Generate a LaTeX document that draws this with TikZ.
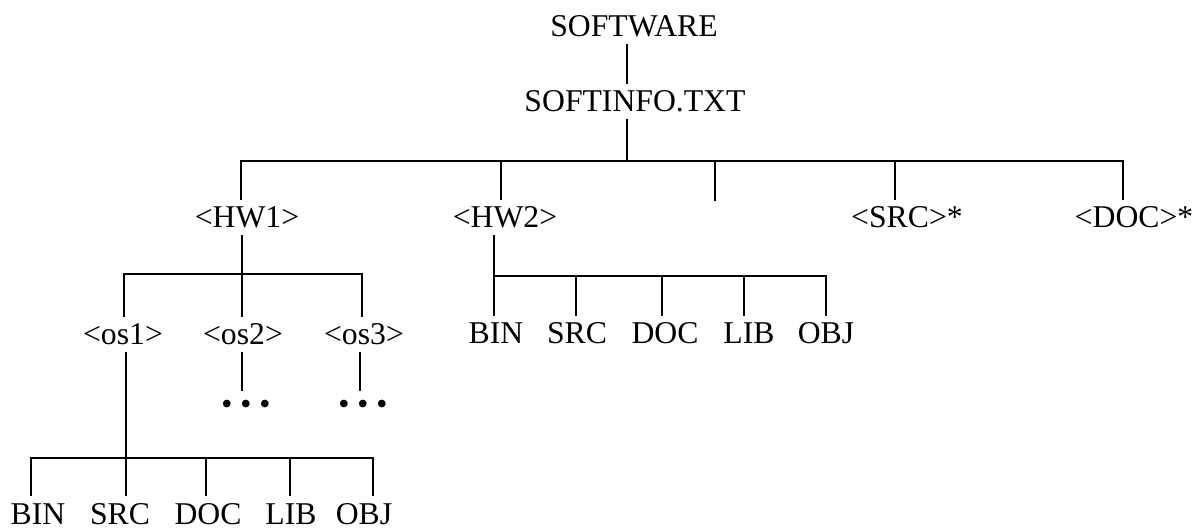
\documentclass[tikz,border=0pt]{standalone}
\usepackage{fontspec}
\setmainfont{Liberation Serif}
\tikzset{dir node/.style={inner sep=0pt, outer xsep=0pt, outer ysep=7pt, anchor=base, font=\fontsize{31.7}{38}\selectfont}}
\tikzset{tree line/.style={draw, line width=1.8pt}}

\begin{document}
\begin{tikzpicture}[x=1pt, y=-1pt]
			\useasboundingbox (0,0) rectangle (1195,529);
			% Define each node
			% Top of the tree
		    \node[dir node] (SW) at (634,37) {SOFTWARE};
		    \node[dir node] (INFO) at (635,112) {SOFTINFO.TXT};
		    % Second level
		    \node[dir node] (HW1) at (247,228) {<HW1>};
		    \node[dir node] (HW2) at (505,228) {<HW2>};
		    \node[dir node] (SRC) at (907,228) {<SRC>*};
		    \node[dir node] (DOC) at (1134,228) {<DOC>*};
		    % Below <HW1>
		    \node[dir node] (OS1) at (123,345) {<os1>};
		    \node[dir node] (OS2) at (243,345) {<os2>};
		    \node[dir node] (OS3) at (364,345) {<os3>};
		    \node[dir node] (D2) at (246,415) {• • •};
		    \node[dir node] (D3) at (363,415) {• • •};
		    % Below <os1>
		    \node[dir node] (B1) at (38,524) {BIN};
		    \node[dir node] (S1) at (120,524) {SRC};
		    \node[dir node] (C1) at (208,524) {DOC};
		    \node[dir node] (L1) at (291,524) {LIB};
		    \node[dir node] (O1) at (364,524) {OBJ};
		    % Below <HW2>
		    \node[dir node] (B2) at (496,344) {BIN};
		    \node[dir node] (S2) at (577,344) {SRC};
		    \node[dir node] (C2) at (665,344) {DOC};
		    \node[dir node] (L2) at (749,344) {LIB};
		    \node[dir node] (O2) at (826,344) {OBJ};
		
		    % Points on the bars
		    \coordinate (top) at (627,161);
		    \coordinate (h1) at (241,161);
		    \coordinate (h2) at (501,161);
		    \coordinate (h3) at (715,161);
		    \coordinate (h4) at (895,161);
		    \coordinate (h5) at (1123,161);
		    \coordinate (e3) at (715,201);
		    \coordinate (o1) at (124,274);
		    \coordinate (o2) at (242,274);
		    \coordinate (o3) at (362,274);
		    \coordinate (u2) at (242,391);
		    \coordinate (u3) at (360,391);
		    \coordinate (q1) at (31,458);
		    \coordinate (q2) at (126,458);
		    \coordinate (q3) at (206,458);
		    \coordinate (q4) at (290,458);
		    \coordinate (q5) at (373,458);
		    \coordinate (r1) at (494,276);
		    \coordinate (r2) at (576,276);
		    \coordinate (r3) at (662,276);
		    \coordinate (r4) at (744,276);
		    \coordinate (r5) at (826,276);
		
		    % Draw the bars with their outer drops
		    \path[tree line] (HW1.north -| h1) -- (h1) -- (h5) -- (DOC.north -| h5);
		    \path[tree line] (OS1.north -| o1) -- (o1) -- (o3) -- (OS3.north -| o3);
		    \path[tree line] (B1.north -| q1) -- (q1) -- (q5) -- (O1.north -| q5);
		    \path[tree line] (B2.north -| r1) -- (r1) -- (r5 |- r1) -- (O2.north -| r5);
		
		    \path[tree line]
		    % Draw the other lines
		    (SW.south -| top) edge (INFO.north -| top)
		    (INFO.south -| top) edge (top)
		    (h2) edge (HW2.north -| h2)
		    (h3) edge (e3)
		    (h4) edge (SRC.north -| h4)
		    (HW1.south -| o2) edge (o2)
		    (o2) edge (OS2.north -| o2)
		    (OS2.south -| u2) edge (u2)
		    (OS3.south -| u3) edge (u3)
		    (OS1.south -| q2) edge (q2)
		    (q2) edge (S1.north -| q2)
		    (q3) edge (C1.north -| q3)
		    (q4) edge (L1.north -| q4)
		    (HW2.south -| r1) edge (r1)
		    (r2) edge (S2.north -| r2)
		    (r3) edge (C2.north -| r3)
		    (r4) edge (L2.north -| r4);
		\end{tikzpicture}
\end{document}
